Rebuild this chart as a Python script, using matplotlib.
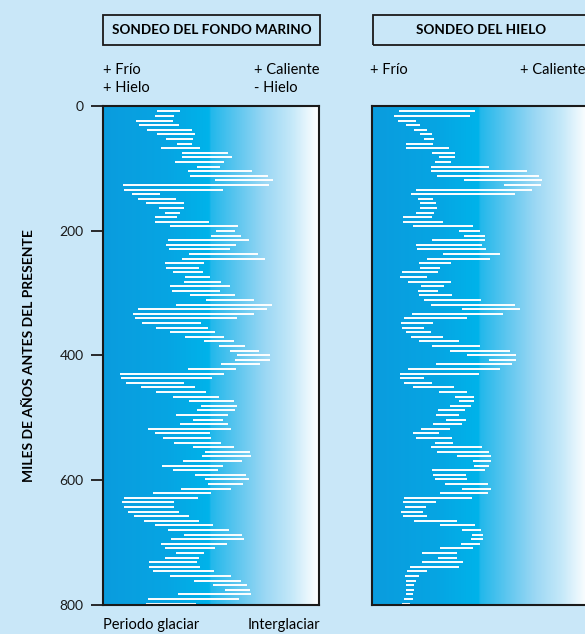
"""
Sondeos del fondo marino y del hielo: ciclos glaciares de los últimos 800.000 años
"""
import numpy as np
import matplotlib
matplotlib.use("Agg")
import matplotlib.pyplot as plt
from matplotlib.colors import LinearSegmentedColormap
from matplotlib.patches import Rectangle

plt.rcParams['font.family'] = ['Lato', 'DejaVu Sans']

# edad de cada fila (miles de años), una fila por muestra
edades = np.linspace(8.5, 798.7, 108)

# sondeo del fondo marino: inicio y fin de cada trazo (0 = frío, 216 = caliente)
marino_ini = [54, 52, 33, 36, 44, 54, 63, 74, 58, 79, 79, 72, 94, 85, 87, 112, 20, 21, 29, 35,
              43, 56, 62, 52, 52, 67, 113, 108, 65, 63, 66, 86, 79, 62, 63, 70, 82, 81, 67, 69,
              87, 103, 73, 35, 30, 32, 39, 53, 67, 82, 101, 116, 127, 134, 132, 118, 85, 17, 18, 23,
              38, 53, 70, 86, 98, 94, 73, 90, 77, 45, 52, 60, 71, 90, 102, 99, 80, 59, 70, 92,
              102, 105, 78, 50, 21, 19, 21, 25, 31, 41, 52, 65, 81, 68, 58, 62, 73, 62, 46, 46,
              50, 67, 91, 110, 122, 75, 45, 43]
marino_fin = [77, 71, 70, 76, 89, 92, 90, 89, 97, 125, 129, 121, 117, 149, 165, 170, 166, 120, 57, 73,
              81, 81, 77, 74, 106, 135, 132, 138, 146, 133, 127, 155, 162, 101, 96, 100, 107, 118, 127, 117,
              132, 151, 169, 164, 151, 134, 98, 105, 112, 121, 131, 142, 156, 167, 167, 157, 133, 121, 109, 81,
              92, 103, 116, 131, 134, 132, 125, 120, 125, 128, 107, 108, 118, 131, 147, 148, 139, 120, 115, 143,
              146, 140, 128, 108, 95, 71, 71, 76, 86, 96, 110, 126, 139, 141, 124, 112, 101, 96, 94, 97,
              111, 128, 138, 144, 147, 148, 136, 93]

# sondeo del hielo
hielo_ini = [27, 22, 26, 34, 42, 48, 52, 34, 34, 60, 67, 63, 59, 59, 65, 92, 132, 44, 39, 46,
             48, 48, 44, 31, 31, 41, 87, 92, 60, 44, 45, 71, 55, 47, 48, 30, 28, 36, 49, 46,
             47, 52, 59, 90, 40, 32, 29, 30, 34, 39, 47, 60, 78, 95, 117, 64, 36, 28, 28, 32,
             41, 67, 83, 87, 78, 66, 64, 74, 61, 49, 41, 44, 63, 59, 65, 85, 101, 102, 60, 61,
             63, 73, 90, 68, 32, 31, 33, 29, 31, 42, 68, 90, 100, 99, 89, 68, 50, 66, 50, 38,
             35, 33, 34, 34, 34, 34, 32, 30]
hielo_fin = [103, 98, 44, 48, 55, 60, 62, 61, 77, 83, 83, 79, 117, 155, 167, 170, 169, 160, 143, 61,
             64, 65, 62, 60, 71, 101, 108, 113, 113, 110, 114, 128, 118, 79, 68, 66, 55, 79, 72, 66,
             80, 109, 143, 148, 131, 95, 61, 52, 59, 71, 87, 108, 138, 144, 144, 140, 128, 107, 52, 60,
             82, 95, 102, 102, 99, 93, 87, 94, 90, 78, 67, 80, 81, 110, 117, 119, 119, 117, 113, 94,
             95, 116, 119, 116, 100, 64, 54, 51, 55, 85, 103, 109, 111, 111, 108, 101, 85, 85, 91, 87,
             55, 47, 44, 42, 42, 41, 41, 38]

W, H = 585, 634
fondo = '#c9e7f8'

def fx(px):
    return px / W

def fy(py):
    return 1 - py / H

fig = plt.figure(figsize=(W / 100, H / 100), dpi=100, facecolor=fondo)

cmap = LinearSegmentedColormap.from_list('hielo', [
    (0.0, '#0a9cde'), (0.30, '#06a5e3'), (0.49, '#00b3ea'), (0.50, '#22b8eb'),
    (0.62, '#5cc6ef'), (0.75, '#9ad7f4'), (0.88, '#c6e9f9'), (1.0, '#ffffff')])
grad = np.linspace(0, 1, 300).reshape(1, -1)

ax1 = fig.add_axes([fx(103.3), fy(604.5), fx(216), (604.5 - 106) / H])
ax2 = fig.add_axes([fx(371.7), fy(604.5), fx(216), (604.5 - 106) / H])

for ax, ini, fin in [(ax1, marino_ini, marino_fin), (ax2, hielo_ini, hielo_fin)]:
    ax.imshow(grad, cmap=cmap, extent=[0, 216, 800, 0], aspect='auto', zorder=0)
    ax.hlines(edades, ini, fin, color='white', linewidth=1.4, zorder=2)
    ax.set_xlim(0, 216)
    ax.set_ylim(800, 0)
    ax.set_xticks([])
    for s in ax.spines.values():
        s.set_linewidth(1.5)
        s.set_color('#1a1a1a')
        s.set_zorder(3)

ax1.set_yticks([0, 200, 400, 600, 800])
ax1.tick_params(axis='y', direction='out', length=9, width=1.3, pad=5, labelsize=10, colors='#1a1a1a')
ax2.set_yticks([])

ax1.set_ylabel('MILES DE AÑOS ANTES DEL PRESENTE', fontsize=10, fontweight='bold', labelpad=18)

# recuadros de título
for x0, x1, txt in [(103, 320, 'SONDEO DEL FONDO MARINO'), (372.7, 588.7, 'SONDEO DEL HIELO')]:
    fig.add_artist(Rectangle((fx(x0), fy(44.5)), fx(x1 - x0), (44.5 - 15) / H,
                             transform=fig.transFigure, fill=False, edgecolor='#1a1a1a', linewidth=1.3))
    fig.text(fx((x0 + x1) / 2), fy(30), txt, ha='center', va='center', fontsize=9.7, fontweight='bold')

fig.text(fx(103), fy(70), '+ Frío', ha='left', va='center', fontsize=10.5)
fig.text(fx(103), fy(88), '+ Hielo', ha='left', va='center', fontsize=10.5)
fig.text(fx(254), fy(70), '+ Caliente', ha='left', va='center', fontsize=10.5)
fig.text(fx(254), fy(88), '- Hielo', ha='left', va='center', fontsize=10.5)
fig.text(fx(370), fy(70), '+ Frío', ha='left', va='center', fontsize=10.5)
fig.text(fx(520.5), fy(70), '+ Caliente', ha='left', va='center', fontsize=10.5)

fig.text(fx(103), fy(625), 'Periodo glaciar', ha='left', va='center', fontsize=10.5)
fig.text(fx(320), fy(625), 'Interglaciar', ha='right', va='center', fontsize=10.5)

fig.savefig('out.png', dpi=100, facecolor=fondo)
